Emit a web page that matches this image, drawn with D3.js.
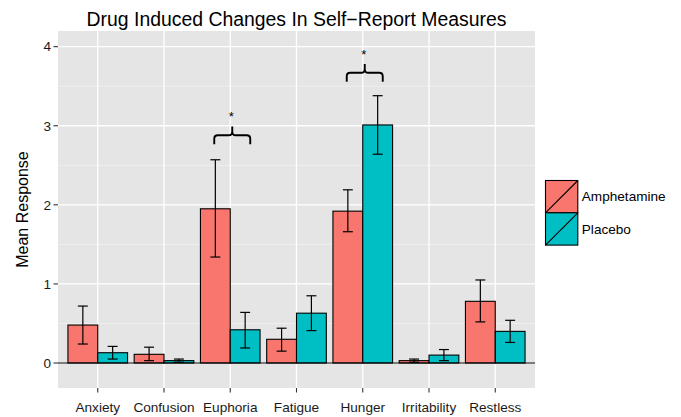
<!DOCTYPE html>
<html>
<head>
<meta charset="utf-8">
<script src="https://cdn.jsdelivr.net/npm/d3@7"></script>
<style>
  html, body { margin: 0; padding: 0; background: #fff; }
  svg { display: block; font-family: "Liberation Sans", Arial, sans-serif; }
</style>
</head>
<body>
<svg id="chart" width="681" height="417"></svg>
<script>
const categories = ["Anxiety", "Confusion", "Euphoria", "Fatigue", "Hunger", "Irritability", "Restless"];
const seriesNames = ["Amphetamine", "Placebo"];
const seriesColors = ["#F8766D", "#00BFC4"];
const amphMean = [0.48, 0.11, 1.95, 0.30, 1.92, 0.03, 0.78];
const amphLo   = [0.24, 0.03, 1.34, 0.15, 1.66, 0.01, 0.52];
const amphHi   = [0.72, 0.20, 2.57, 0.44, 2.19, 0.05, 1.05];
const placMean = [0.13, 0.03, 0.42, 0.63, 3.01, 0.10, 0.40];
const placLo   = [0.05, 0.01, 0.19, 0.41, 2.64, 0.03, 0.26];
const placHi   = [0.21, 0.05, 0.64, 0.85, 3.38, 0.17, 0.54];
const yTicks = [0, 1, 2, 3, 4];
const yMinor = [0.5, 1.5, 2.5, 3.5];
const brackets = [
  { category: "Euphoria", level: 2.88, label: "*" },
  { category: "Hunger", level: 3.67, label: "*" }
];
const titleText = "Drug Induced Changes In Self\u2212Report Measures";
const yTitle = "Mean Response";

const svg = d3.select("#chart");
const panel = { left: 58, right: 535, top: 31, bottom: 388 };

const x = d3.scaleLinear().domain([0.4, categories.length + 0.6]).range([panel.left, panel.right]);
const y = d3.scaleLinear().domain([-0.316, 4.198]).range([panel.bottom, panel.top]);
const catX = c => x(categories.indexOf(c) + 1);
const barW = x(0.45) - x(0);
const capW = x(0.15) - x(0);

// Panel background
svg.append("rect")
  .attr("x", panel.left).attr("y", panel.top)
  .attr("width", panel.right - panel.left).attr("height", panel.bottom - panel.top)
  .attr("fill", "#E5E5E5");

// Minor grid
svg.append("g").selectAll("line").data(yMinor).join("line")
  .attr("x1", panel.left).attr("x2", panel.right)
  .attr("y1", d => y(d)).attr("y2", d => y(d))
  .attr("stroke", "#F2F2F2").attr("stroke-width", 0.8);

// Major grid
svg.append("g").selectAll("line").data(yTicks).join("line")
  .attr("x1", panel.left).attr("x2", panel.right)
  .attr("y1", d => y(d)).attr("y2", d => y(d))
  .attr("stroke", "#fff").attr("stroke-width", 1.3);
svg.append("g").selectAll("line").data(categories).join("line")
  .attr("x1", d => catX(d)).attr("x2", d => catX(d))
  .attr("y1", panel.top).attr("y2", panel.bottom)
  .attr("stroke", "#fff").attr("stroke-width", 1.3);

// Bars data
const rows = [];
categories.forEach((c, i) => {
  rows.push({ c, s: 0, m: amphMean[i], lo: amphLo[i], hi: amphHi[i] });
  rows.push({ c, s: 1, m: placMean[i], lo: placLo[i], hi: placHi[i] });
});
const barLeft = d => catX(d.c) - barW + d.s * barW;

svg.append("g").selectAll("rect").data(rows).join("rect")
  .attr("x", d => barLeft(d))
  .attr("y", d => y(d.m))
  .attr("width", barW)
  .attr("height", d => y(0) - y(d.m))
  .attr("fill", d => seriesColors[d.s])
  .attr("stroke", "#000").attr("stroke-width", 1.1);

// Zero line
svg.append("line")
  .attr("x1", panel.left).attr("x2", panel.right)
  .attr("y1", y(0)).attr("y2", y(0))
  .attr("stroke", "#000").attr("stroke-width", 1.2);

// Error bars
const eb = svg.append("g").attr("stroke", "#000").attr("stroke-width", 1.2).attr("fill", "none");
rows.forEach(d => {
  const cx = barLeft(d) + barW / 2;
  eb.append("line").attr("x1", cx).attr("x2", cx).attr("y1", y(d.lo)).attr("y2", y(d.hi));
  eb.append("line").attr("x1", cx - capW / 2).attr("x2", cx + capW / 2).attr("y1", y(d.hi)).attr("y2", y(d.hi));
  eb.append("line").attr("x1", cx - capW / 2).attr("x2", cx + capW / 2).attr("y1", y(d.lo)).attr("y2", y(d.lo));
});

// Significance brackets
const br = svg.append("g");
brackets.forEach(b => {
  const cx = catX(b.category) + 2;
  const x1 = cx - 18, x2 = cx + 18;
  const yh = y(b.level), ye = y(b.level - 0.115), yt = y(b.level + 0.11);
  const r = 3.5;
  const p = d3.path();
  p.moveTo(x1, ye);
  p.lineTo(x1, yh + r);
  p.quadraticCurveTo(x1, yh, x1 + r, yh);
  p.lineTo(cx - r, yh);
  p.quadraticCurveTo(cx, yh, cx, yh - r);
  p.lineTo(cx, yt);
  p.moveTo(cx, yh - r);
  p.quadraticCurveTo(cx, yh, cx + r, yh);
  p.lineTo(x2 - r, yh);
  p.quadraticCurveTo(x2, yh, x2, yh + r);
  p.lineTo(x2, ye);
  br.append("path").attr("d", p.toString())
    .attr("fill", "none").attr("stroke", "#000").attr("stroke-width", 1.9);
  br.append("text").attr("x", cx - 1).attr("y", y(b.level + 0.25) + 6)
    .attr("text-anchor", "middle").attr("font-size", 13).attr("fill", "#000").text(b.label);
});

// Y axis ticks & labels
const ya = svg.append("g");
ya.selectAll("line").data(yTicks).join("line")
  .attr("x1", panel.left - 4.5).attr("x2", panel.left)
  .attr("y1", d => y(d)).attr("y2", d => y(d))
  .attr("stroke", "#333").attr("stroke-width", 1.1);
ya.selectAll("text").data(yTicks).join("text")
  .attr("x", panel.left - 7).attr("y", d => y(d))
  .attr("dy", "0.35em").attr("text-anchor", "end")
  .attr("font-size", 13.6).attr("fill", "#1a1a1a").text(d => d);

// X axis ticks & labels
const xa = svg.append("g");
xa.selectAll("line").data(categories).join("line")
  .attr("x1", d => catX(d)).attr("x2", d => catX(d))
  .attr("y1", panel.bottom).attr("y2", panel.bottom + 4.5)
  .attr("stroke", "#333").attr("stroke-width", 1.1);
xa.selectAll("text").data(categories).join("text")
  .attr("x", d => catX(d)).attr("y", 412)
  .attr("text-anchor", "middle")
  .attr("font-size", 13.6).attr("fill", "#1a1a1a").text(d => d);

// Title
svg.append("text")
  .attr("x", (panel.left + panel.right) / 2).attr("y", 26)
  .attr("text-anchor", "middle").attr("font-size", 19.4).attr("fill", "#000")
  .text(titleText);

// Y title
svg.append("text")
  .attr("transform", `translate(28, ${(panel.top + panel.bottom) / 2}) rotate(-90)`)
  .attr("text-anchor", "middle").attr("font-size", 16).attr("fill", "#000")
  .text(yTitle);

// Legend
const lg = svg.append("g");
const keyX = 545.5, keyY = 180.5, keyS = 32.3;
seriesNames.forEach((n, i) => {
  const ky = keyY + i * keyS;
  lg.append("rect").attr("x", keyX).attr("y", ky).attr("width", keyS).attr("height", keyS)
    .attr("fill", seriesColors[i]).attr("stroke", "#000").attr("stroke-width", 1.1);
  lg.append("line").attr("x1", keyX).attr("y1", ky + keyS).attr("x2", keyX + keyS).attr("y2", ky)
    .attr("stroke", "#000").attr("stroke-width", 1.1);
  lg.append("text").attr("x", keyX + keyS + 4).attr("y", ky + keyS / 2)
    .attr("dy", "0.35em").attr("font-size", 13.6).attr("fill", "#000").text(n);
});
</script>
</body>
</html>
